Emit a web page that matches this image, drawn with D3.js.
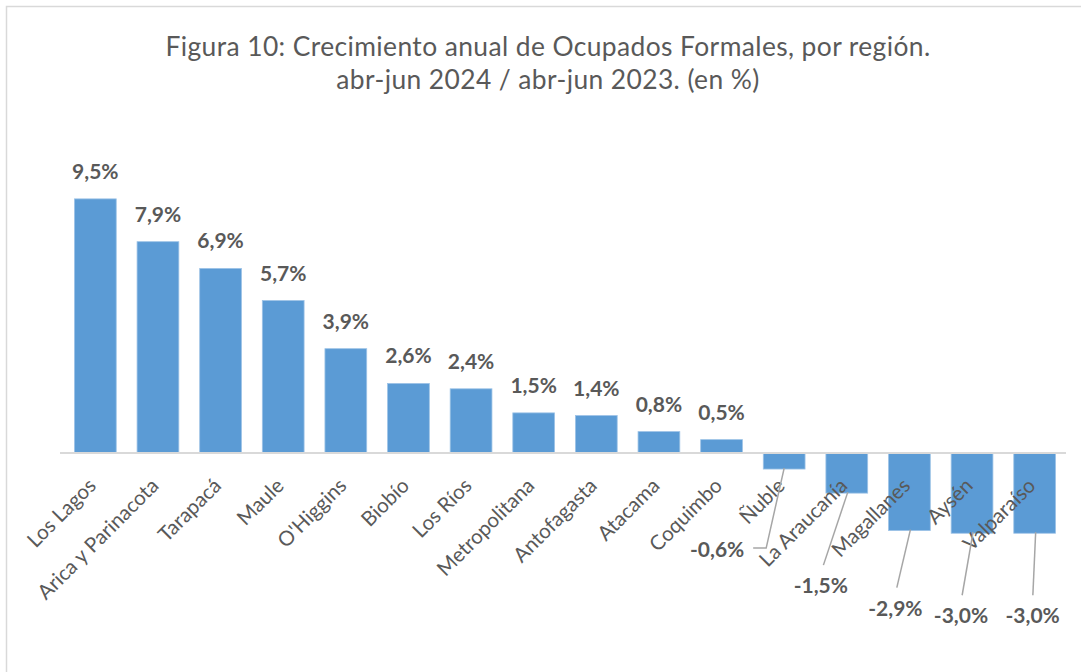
<!DOCTYPE html>
<html>
<head>
<meta charset="utf-8">
<script src="https://cdn.jsdelivr.net/npm/d3@7"></script>
<style>
  body { margin: 0; background: #fff; }
  svg { display: block; font-family: Lato, "Noto Sans", sans-serif; }
</style>
</head>
<body>
<div class="chart"></div>
<script>
// data
var regions = ["Los Lagos", "Arica y Parinacota", "Tarapacá", "Maule", "O'Higgins", "Biobío",
  "Los Ríos", "Metropolitana", "Antofagasta", "Atacama", "Coquimbo", "Ñuble", "La Araucanía",
  "Magallanes", "Aysén", "Valparaíso"];
var growth = [9.5, 7.9, 6.9, 5.7, 3.9, 2.6, 2.4, 1.5, 1.4, 0.8, 0.5, -0.6, -1.5, -2.9, -3.0, -3.0];
var titleLines = ["Figura 10: Crecimiento anual de Ocupados Formales, por región.",
  "abr-jun 2024 / abr-jun 2023. (en %)"];

// manual label placement for the negative bars (pixels from bar end)
var negLabelShift = [[-67, 80], [-26, 92], [-14, 77], [-11, 82], [-2, 82]];

var svgWidth = 1081;
var svgHeight = 672;

var svg = d3.select(".chart")
  .append("svg")
  .attr("width", svgWidth)
  .attr("height", svgHeight);

// chart frame
svg.append("rect")
  .attr("x", 6.5).attr("y", 6.5)
  .attr("width", 1100).attr("height", 700)
  .attr("fill", "none")
  .attr("stroke", "#d9d9d9")
  .attr("stroke-width", 1.5);

var x = d3.scaleBand()
  .domain(regions)
  .range([64, 1066])
  .paddingInner(0.333)
  .paddingOuter(0.167);

var y = d3.scaleLinear()
  .domain([-4, 10])
  .range([453 + 4 * 26.75, 453 - 10 * 26.75]);

var data = regions.map(function(r, i) { return { region: r, value: growth[i] }; });

// title
svg.append("text")
  .attr("text-anchor", "middle")
  .attr("fill", "#595959")
  .style("font-size", "26.4px")
  .style("letter-spacing", "0.4px")
  .selectAll("tspan")
  .data(titleLines)
  .enter()
  .append("tspan")
    .attr("x", 548)
    .attr("y", function(d, i) { return 56 + i * 33; })
    .text(function(d) { return d; });

// bars
svg.append("g")
  .selectAll("rect")
  .data(data)
  .enter()
  .append("rect")
  .attr("x", function(d) { return x(d.region); })
  .attr("y", function(d) { return y(Math.max(0, d.value)); })
  .attr("width", x.bandwidth())
  .attr("height", function(d) { return Math.abs(y(d.value) - y(0)); })
  .attr("fill", "#5b9bd5")
  .attr("stroke", "#9dc3e6")
  .attr("stroke-width", 0.8);

// zero axis line
svg.append("line")
  .attr("x1", x.range()[0] - 4).attr("x2", x.range()[1])
  .attr("y1", y(0)).attr("y2", y(0))
  .attr("stroke", "#d9d9d9")
  .attr("stroke-width", 2);

// category labels, rotated
svg.append("g")
  .selectAll("text")
  .data(data)
  .enter()
  .append("text")
  .attr("text-anchor", "end")
  .attr("fill", "#595959")
  .style("font-size", "20.5px")
  .attr("transform", function(d) {
    var cx = x(d.region) + x.bandwidth() / 2 + 2;
    return "translate(" + cx + "," + (y(0) + 34) + ") rotate(-45)";
  })
  .text(function(d) { return d.region; });

function fmt(v) {
  return v.toFixed(1).replace(".", ",") + "%";
}

var pos = data.filter(function(d) { return d.value >= 0; });
var neg = data.filter(function(d) { return d.value < 0; });

// value labels above the positive bars
svg.append("g")
  .selectAll("text")
  .data(pos)
  .enter()
  .append("text")
  .attr("text-anchor", "middle")
  .attr("fill", "#595959")
  .style("font-size", "21px")
  .style("font-weight", "bold")
  .attr("x", function(d) { return x(d.region) + x.bandwidth() / 2; })
  .attr("y", function(d) { return y(d.value) - 20; })
  .text(function(d) { return fmt(d.value); });

// value labels for the negative bars, pulled out with leader lines
neg.forEach(function(d, i) {
  var cx = x(d.region) + x.bandwidth() / 2;
  var by = y(d.value);
  var lx = cx + negLabelShift[i][0];
  var ly = by + negLabelShift[i][1];
  var path;
  if (i === 0) {
    path = [[cx, by - 1], [cx - 18, ly - 1], [lx + 36, ly - 1]];
  } else {
    path = [[cx + 1, by - 1], [lx + (cx - lx) * 0.1, ly - 20]];
  }
  svg.append("path")
    .attr("d", d3.line()(path))
    .attr("fill", "none")
    .attr("stroke", "#a6a6a6")
    .attr("stroke-width", 1.5);
  svg.append("text")
    .attr("text-anchor", "middle")
    .attr("fill", "#595959")
    .style("font-size", "21px")
    .style("font-weight", "bold")
    .attr("x", lx)
    .attr("y", ly + 8)
    .text(fmt(d.value));
});
</script>
</body>
</html>
